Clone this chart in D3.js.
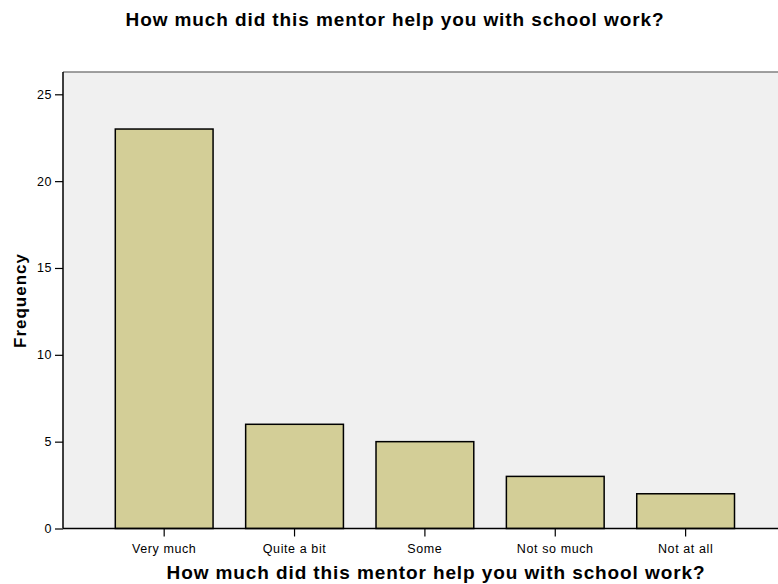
<!DOCTYPE html>
<html>
<head>
<meta charset="utf-8">
<script src="https://cdn.jsdelivr.net/npm/d3@7"></script>
<style>
  body { margin: 0; background: #fff; }
  text { font-family: "Liberation Sans", Arial, sans-serif; }
</style>
</head>
<body>
<svg class="chart"></svg>
<script>
const width = 778;
const height = 584;

const categories = ['Very much', 'Quite a bit', 'Some', 'Not so much', 'Not at all'];
const frequencies = [23, 6, 5, 3, 2];
const yTicks = [0, 5, 10, 15, 20, 25];
const title = 'How much did this mentor help you with school work?';

const svg = d3.select('svg.chart')
	.attr('width', width)
	.attr('height', height);

const plot = { left: 63, top: 72, right: 778, bottom: 528.5 };

const x = d3.scaleBand()
	.domain(categories)
	.range([99, 750.8])
	.paddingInner(0.25)
	.paddingOuter(0.125);

const y = d3.scaleLinear()
	.domain([0, 25])
	.range([plot.bottom, 94.3]);

// plot background
svg.append('rect')
	.attr('x', plot.left)
	.attr('y', plot.top)
	.attr('width', plot.right - plot.left)
	.attr('height', plot.bottom - plot.top)
	.attr('fill', '#f0f0f0');

svg.append('line')
	.attr('x1', plot.left)
	.attr('x2', plot.right)
	.attr('y1', plot.top)
	.attr('y2', plot.top)
	.attr('stroke', '#808080')
	.attr('stroke-width', 1.5);

// bars
svg.selectAll('rect.bar')
	.data(frequencies)
	.enter().append('rect')
		.attr('class', 'bar')
		.attr('x', (d, i) => x(categories[i]))
		.attr('y', d => y(d))
		.attr('width', x.bandwidth())
		.attr('height', d => y(0) - y(d))
		.attr('fill', '#d3ce97')
		.attr('stroke', '#000')
		.attr('stroke-width', 1.5);

// y axis
const yAxis = svg.append('g')
	.attr('transform', `translate(${plot.left},0)`)
	.call(d3.axisLeft(y).tickValues(yTicks).tickSize(8).tickPadding(3));

// x axis
const xAxis = svg.append('g')
	.attr('transform', `translate(0,${plot.bottom})`)
	.call(d3.axisBottom(x).tickSize(8).tickPadding(8));

xAxis.select('.domain').attr('d', `M${plot.left},0H${plot.right}`);

[yAxis, xAxis].forEach(a => {
	a.select('.domain').attr('stroke', '#000').attr('stroke-width', 1.5);
	a.selectAll('.tick line').attr('stroke', '#000').attr('stroke-width', 1.2);
	a.selectAll('.tick text')
		.attr('fill', '#000')
		.style('font-family', '"Liberation Sans", Arial, sans-serif')
		.style('font-size', '12.5px')
		.style('letter-spacing', '0.6px');
});
yAxis.select('.domain').attr('d', `M0,${plot.top}V${plot.bottom}`);

// titles
svg.append('text')
	.attr('x', 395)
	.attr('y', 26)
	.attr('text-anchor', 'middle')
	.style('font-size', '19px')
	.style('font-weight', 'bold')
	.style('letter-spacing', '0.9px')
	.text(title);

svg.append('text')
	.attr('x', 436)
	.attr('y', 579)
	.attr('text-anchor', 'middle')
	.style('font-size', '19px')
	.style('font-weight', 'bold')
	.style('letter-spacing', '0.9px')
	.text(title);

svg.append('text')
	.attr('transform', 'translate(26,300.5) rotate(-90)')
	.attr('text-anchor', 'middle')
	.style('font-size', '17px')
	.style('font-weight', 'bold')
	.style('letter-spacing', '1px')
	.text('Frequency');
</script>
</body>
</html>
